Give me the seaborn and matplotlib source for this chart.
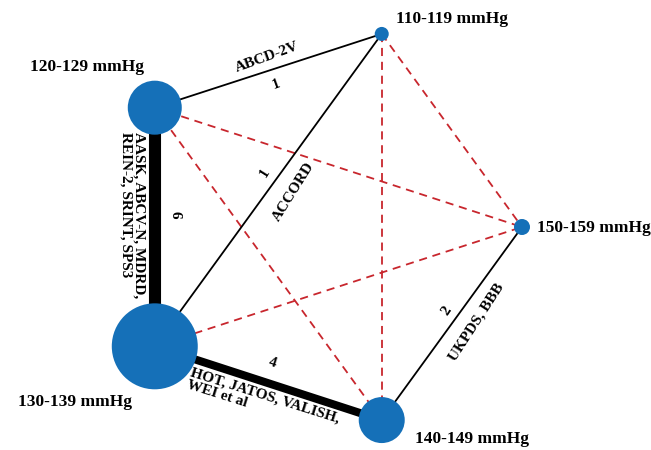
import numpy as np
import pandas as pd
import matplotlib
matplotlib.use("Agg")
import matplotlib.pyplot as plt
import seaborn as sns

# ---- data ----
nodes = ["110-119 mmHg", "120-129 mmHg", "130-139 mmHg", "140-149 mmHg", "150-159 mmHg"]
node_size = [102, 1512, 3833, 1097, 133]   # marker area, ~ patients

# direct comparisons (solid): a, b, number of trials, trial names
direct_a = [0, 0, 1, 2, 3]
direct_b = [1, 2, 2, 3, 4]
direct_n = [1, 1, 6, 4, 2]
direct_trials = ["ABCD-2V", "ACCORD",
                 "AASK, ABCV-N, MDRD,\nREIN-2, SRINT, SPS3",
                 "HOT, JATOS, VALISH,\nWEI et al",
                 "UKPDS, BBB"]

# indirect comparisons (dashed)
indirect_a = [1, 1, 0, 0, 2]
indirect_b = [4, 3, 4, 3, 4]

# ---- layout: regular pentagon (pixel-like coords, y down) ----
cx, cy, r = 319, 227, 203
ang = np.deg2rad(-72 * (np.arange(len(nodes)) + 1))
df = pd.DataFrame({"node": nodes, "x": cx + r * np.cos(ang),
                   "y": cy + r * np.sin(ang), "n": node_size})

sns.set_style("white")
plt.rcParams["font.family"] = ["Liberation Serif", "DejaVu Serif"]
plt.rcParams["font.weight"] = "bold"
plt.rcParams["text.color"] = "black"

fig = plt.figure(figsize=(6.51, 4.5), dpi=100)
ax = fig.add_axes([0, 0, 1, 1])

# indirect edges
for a, b in zip(indirect_a, indirect_b):
    ax.plot(df.x[[a, b]], df.y[[a, b]], color="#c8262d", lw=1.3,
            linestyle=(0, (4.5, 3.2)), zorder=1)

# direct edges
for a, b, n in zip(direct_a, direct_b, direct_n):
    lw = 1.3 if n <= 2 else 1.45 * n
    ax.plot(df.x[[a, b]], df.y[[a, b]], color="black", lw=lw,
            solid_capstyle="butt", zorder=2)

# nodes
sns.scatterplot(data=df, x="x", y="y", size="n", sizes=(min(node_size), max(node_size)),
                size_norm=(min(node_size), max(node_size)), color="#1570b8",
                edgecolor="none", legend=False, zorder=3, ax=ax)

# node labels (offset from node, pixels)
node_lab = [(14, -15, "left"), (-11, -41, "right"), (-23, 56, "right"),
            (33, 19, "left"), (15, 1, "left")]
for (dx, dy, ha), (_, row) in zip(node_lab, df.iterrows()):
    ax.text(row.x + dx, row.y + dy, row.node, ha=ha, va="center",
            fontsize=12.5, fontweight="bold")

# edge labels: (count offset, count rot), (names offset, rot, ha, va)
lab_spec = [
    ((8, 14, 20), (-1, -14, 20, "center", "center")),
    ((-3, -17, 58), (25, 2, 58, "center", "center")),
    ((20, -12, -90), (-22, -95, -90, "center", "top")),
    ((4, -20, -17.5), (-75, -17, -17.5, "left", "top")),
    ((-5, -13, 56), (25, -1, 57, "center", "center")),
]
for a, b, n, names, (c, t) in zip(direct_a, direct_b, direct_n, direct_trials, lab_spec):
    mx = (df.x[a] + df.x[b]) / 2
    my = (df.y[a] + df.y[b]) / 2
    ax.text(mx + c[0], my + c[1], str(n), rotation=c[2], ha="center", va="center",
            rotation_mode="anchor", fontsize=11, fontweight="bold")
    ax.text(mx + t[0], my + t[1], names, rotation=t[2], ha=t[3], va=t[4],
            rotation_mode="anchor" if t[2] != -90 else "default",
            multialignment="left", fontsize=11, fontweight="bold", linespacing=1.0)

ax.set_xlim(0, 651)
ax.set_ylim(450, 0)
ax.set_aspect("equal")
ax.axis("off")

fig.savefig("out.png", dpi=100)
